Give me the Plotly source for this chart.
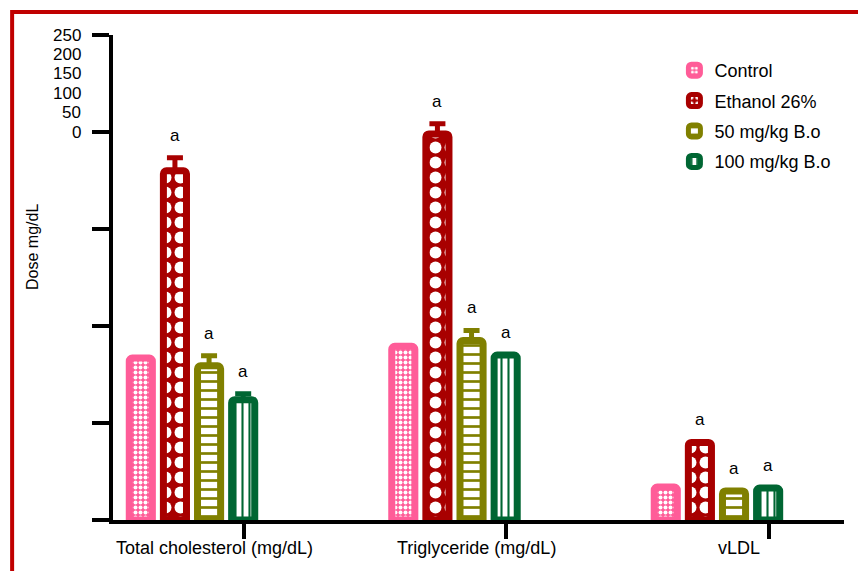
import plotly.graph_objects as go

# Lipid profile per treatment group
categories = ["Total cholesterol (mg/dL)", "Triglyceride (mg/dL)", "vLDL"]
groups = ["Control", "Ethanol 26%", "50 mg/kg B.o", "100 mg/kg B.o"]

control = [83.5, 89.5, 17.0]
ethanol = [180.0, 199.0, 40.0]
dose_50 = [79.5, 92.5, 15.0]
dose_100 = [62.0, 85.0, 16.5]

control_err = [None, None, None]
ethanol_err = [6.7, 5.2, None]
dose_50_err = [5.2, 5.2, None]
dose_100_err = [3.1, None, None]

control_sig = ["", "", ""]
ethanol_sig = ["a", "a", "a"]
dose_50_sig = ["a", "a", "a"]
dose_100_sig = ["a", "a", "a"]

y_ticks = [0, 50, 100, 150, 200, 250]
y_tick_text = ["250", "200", "150", "100", "50", "0"]
y_tick_text_pos = [250, 240, 230, 220, 210, 200]

series = [
    (groups[0], control, control_err, control_sig,
     dict(color="#FF5C98", shape=".", fg="white", bg="#FF5C98", size=5, solidity=0.5)),
    (groups[1], ethanol, ethanol_err, ethanol_sig,
     dict(color="#A80000", shape=".", fg="white", bg="#A80000", size=15, solidity=0.5)),
    (groups[2], dose_50, dose_50_err, dose_50_sig,
     dict(color="#808000", shape="-", fg="#808000", bg="white", size=9, solidity=0.3)),
    (groups[3], dose_100, dose_100_err, dose_100_sig,
     dict(color="#006633", shape="|", fg="#006633", bg="white", size=7, solidity=0.3)),
]

FONT = "Liberation Sans, Arial, sans-serif"
pitch = 0.13
bar_w = 0.088
offsets = [-1.5 * pitch, -0.5 * pitch, 0.5 * pitch, 1.5 * pitch]
group_x = list(range(len(categories)))

fig = go.Figure()
annotations = []
for k, (name, vals, errs, sig, st) in enumerate(series):
    xs = [g + offsets[k] for g in group_x]
    fig.add_trace(go.Bar(
        name=name,
        legendgroup=name,
        x=xs,
        y=vals,
        width=bar_w,
        marker=dict(
            color=st["color"],
            line=dict(color=st["color"], width=7),
            cornerradius=3,
            pattern=dict(shape=st["shape"], fgcolor=st["fg"], bgcolor=st["bg"],
                         size=st["size"], solidity=st["solidity"], fillmode="replace"),
        ),
        error_y=dict(type="data", symmetric=False, array=errs,
                     arrayminus=[0 if e is not None else None for e in errs],
                     color=st["color"], thickness=5, width=8),
    ))
    for x, v, e, s in zip(xs, vals, errs, sig):
        if s:
            annotations.append(dict(
                x=x, y=v + (e or 0), xref="x", yref="y", text=s, showarrow=False,
                yanchor="bottom", yshift=11, font=dict(size=17, color="black", family=FONT),
            ))

# category names under the x axis
for g, c in zip(group_x, categories):
    annotations.append(dict(
        x=g + 0.085, y=-0.058, xref="x", yref="paper", text=c, showarrow=False,
        xanchor="center", yanchor="middle", font=dict(size=18, color="black", family=FONT),
    ))

# stacked value labels on the y axis
for t, p in zip(y_tick_text, y_tick_text_pos):
    annotations.append(dict(
        x=-0.041, y=p, xref="paper", yref="y", text=t, showarrow=False,
        xanchor="right", yanchor="middle", font=dict(size=17, color="black", family=FONT),
    ))

annotations.append(dict(
    x=-0.1094, y=0.563, xref="paper", yref="paper", text="Dose mg/dL", showarrow=False,
    textangle=-90, xanchor="center", yanchor="middle",
    font=dict(size=16, color="black", family=FONT),
))

fig.update_layout(
    width=858, height=571,
    margin=dict(l=113, r=14, t=35, b=51),
    paper_bgcolor="white", plot_bgcolor="white",
    barmode="overlay",
    showlegend=True,
    legend=dict(x=0.768, y=0.965, xanchor="left", yanchor="top",
                font=dict(size=18, color="black", family=FONT),
                bgcolor="rgba(0,0,0,0)", tracegroupgap=4),
    annotations=annotations,
    shapes=[dict(type="rect", xref="paper", yref="paper",
                 x0=-0.138, x1=1.3, y0=-0.4, y1=1.0474,
                 line=dict(color="#C00000", width=4), fillcolor="rgba(0,0,0,0)")],
    font=dict(family=FONT, color="black"),
)

fig.update_xaxes(
    range=[-0.301, 2.484], showgrid=False, zeroline=False,
    showline=True, linecolor="black", linewidth=4,
    tickvals=[g + 0.198 for g in group_x], ticktext=["", "", ""],
    ticks="outside", ticklen=15, tickwidth=4, tickcolor="black",
)
fig.update_yaxes(
    range=[0, 250], showgrid=False, zeroline=False,
    showline=True, linecolor="black", linewidth=4,
    tickvals=y_ticks, ticktext=[""] * len(y_ticks),
    ticks="outside", ticklen=17, tickwidth=4, tickcolor="black",
)

fig.write_html("out.html")
